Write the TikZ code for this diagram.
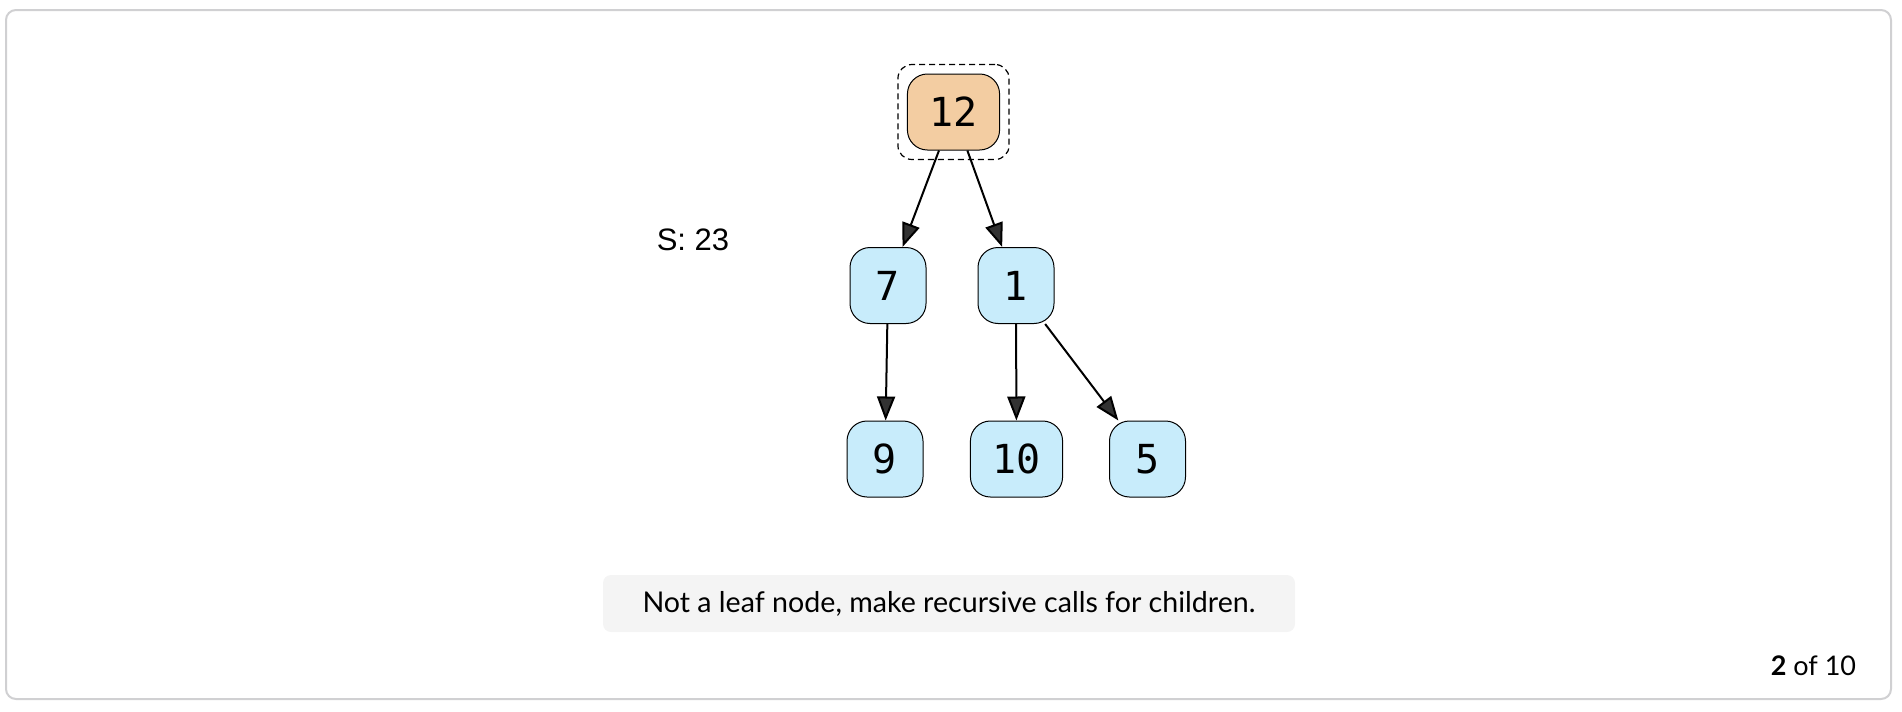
\documentclass[tikz,border=0pt]{standalone}
\usepackage{fontspec}
\setmainfont{Lato}
\newfontfamily\labelfont{Liberation Sans}
\newfontfamily\keyfont{DejaVu Sans Mono}
\usepackage{tikz}
\usetikzlibrary{arrows.meta, positioning, fit}
\definecolor{framegray}{RGB}{208,208,210}
\definecolor{visitorange}{RGB}{243,205,162}
\definecolor{treeblue}{RGB}{200,236,251}
\definecolor{tipgray}{RGB}{50,50,50}
\definecolor{notegray}{RGB}{244,244,244}
\tikzset{
  treenode/.style={rectangle, rounded corners=10pt, draw=black, line width=0.5pt,
    minimum width=38pt, minimum height=38pt, inner xsep=11pt,
    font=\keyfont\fontsize{20}{22}\selectfont, fill=treeblue},
  activenode/.style={treenode, fill=visitorange},
  focusbox/.style={rectangle, rounded corners=7pt, draw=black, line width=0.6pt,
    dash pattern=on 3pt off 2pt, inner sep=4.5pt},
  edge/.style={-{Triangle[length=12pt, width=9pt, fill=tipgray]}, line width=1pt,
    color=black},
  notebox/.style={rectangle, rounded corners=4pt, fill=notegray,
    minimum width=346pt, minimum height=28.5pt,
    font=\fontsize{14.3}{16}\selectfont},
}
\begin{document}
\begin{tikzpicture}[x=0.5pt, y=-0.5pt]
  \useasboundingbox (0,0) rectangle (1902,712);
  % Frame
  \draw[framegray, line width=1pt, rounded corners=5pt] (6,10) rectangle (1891,699);
  % Tree nodes
  \node[activenode] (n12) at (953.5,112) {12};
  \node[focusbox, fit=(n12)] (focus) {};
  \node[treenode] (n7)  at (888,285.5) {7};
  \node[treenode] (n1)  at (1016,285.5) {1};
  \node[treenode] (n9)  at (885,459) {9};
  \node[treenode] (n10) at (1016.5,459) {10};
  \node[treenode] (n5)  at (1147.5,459) {5};
  % Edges
  \draw[edge] (n12) -- (n7);
  \draw[edge] (n12) -- (n1);
  \draw[edge] (n7) -- (n9);
  \draw[edge] (n1) -- (n10);
  \draw[edge] (n1) -- (n5);
  % Running sum
  \node[font=\labelfont\fontsize{15.5}{17}\selectfont] (sum) at (693,240) {S: 23};
  % Step note
  \node[notebox] (note) at (949,603.5) {Not a leaf node, make recursive calls for children.};
  \node[font=\fontsize{13.5}{15}\selectfont] (page) at (1813.5,666) {\textbf{2} of 10};
\end{tikzpicture}
\end{document}
